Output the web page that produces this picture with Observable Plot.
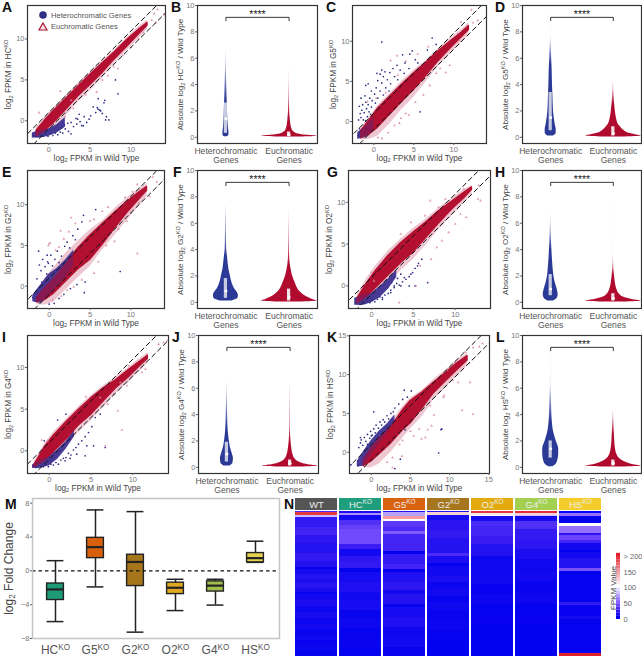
<!DOCTYPE html>
<html><head><meta charset="utf-8">
<script src="https://cdn.jsdelivr.net/npm/d3@7"></script>
<script src="https://cdn.jsdelivr.net/npm/@observablehq/plot@0.6"></script>
<style>
html,body{margin:0;padding:0;background:#fff}
#page{position:relative;width:642px;height:657px;overflow:hidden;font-family:"Liberation Sans",Arial,sans-serif}
#page>svg,#page>.p{position:absolute}
.letter{position:absolute;font:bold 14px "Liberation Sans",Arial,sans-serif;line-height:14px;color:#111}
.lg{position:absolute;font-size:7.6px;color:#555;line-height:9px;white-space:nowrap}
</style></head><body><div id="page"></div>
<script>
// ---------- scatter data: bands [x, lo, hi, haloLo, haloHi]; clouds [x, lo, hi]; points [x, y] ----------
const bandA=[[-1.5,-1.9,-1.2,-2,-.8],[-.5,-1.3,0,-1.7,.4],[.5,-.4,1.1,-1.1,1.5],[2,1.2,2.6,.5,3],[3.5,2.9,4.1,2.2,4.5],[5,4.3,5.6,3.6,5.9],[6.5,5.8,7,5.2,7.3],[8,7.5,8.4,7,8.7],[9.5,9,9.9,8.6,10.2],[11,10.6,11.2,10.1,11.6],[12,11.6,12,11.2,12.3]];
const bandC=[[-1.6,-2.1,-1.2,-2.3,-.8],[-.5,-1.6,.2,-2.2,.6],[.5,-.8,1.6,-1.8,2],[2,.8,3.1,-.3,3.5],[3.5,2.4,4.6,1.5,5],[5,3.9,6,3,6.4],[6.5,5.6,7.3,4.9,7.6],[8,7.4,8.7,6.8,9],[9.5,9,9.9,8.4,10.3],[11,10.5,11.1,9.9,11.5],[11.9,11.4,11.9,10.9,12.3]];
const bandE=[[-1.5,-2,-1.4,-2.3,-.8],[-.5,-1.7,-.2,-2.3,1],[.5,-1,.8,-2,2.2],[2,.5,2.6,-.5,4],[3.5,2,4.6,1,5.5],[5,3.2,6.2,2.4,6.9],[6.5,5,7.6,4.4,8],[8,7,9,6.2,9.5],[9.5,8.9,10.3,8,10.8],[11,10.6,11.5,9.8,12],[12,11.7,12.2,11,12.6]];
const bandG=[[-1.7,-2.1,-1.5,-2.4,-1],[-.5,-1.3,.4,-2,1],[.5,-.3,1.8,-1.5,2.4],[2,1.2,3.6,.2,4.2],[3.5,2.7,5.1,1.8,5.6],[5,4,6.4,3.2,6.9],[6.5,5.7,7.6,4.9,8],[8,7.4,8.9,6.7,9.3],[9.5,9,10,8.3,10.4],[11,10.4,11.1,9.8,11.5],[12,11.5,11.8,11,12]];
const bandI=[[-1.8,-2,-1.7,-2.2,-1.3],[-.5,-1.2,.5,-1.8,.9],[.5,-.2,1.8,-1.2,2.2],[2,1.3,3.4,.4,3.8],[3.5,3,4.9,2.2,5.3],[5,4.3,6.3,3.6,6.6],[6.5,5.9,7.5,5.2,7.8],[8,7.5,8.5,6.9,8.9],[9.5,8.8,9.7,8.2,10],[11,10.3,10.8,9.7,11.2],[11.8,11,11.4,10.5,11.7]];
const bandK=[[-1,-1.8,-1,-2,-.4],[0,-1.2,.5,-2,1],[1,-.3,1.7,-1.5,2.2],[2.5,1.1,3.2,0,3.8],[4,2.8,5.4,1.8,5.9],[5,3.7,6.6,3,7],[6.5,5.6,7.7,4.6,8],[8,7.6,9,6.8,9.4],[9.5,9.1,10.2,8.3,10.6],[11,10.6,11.5,9.9,11.9],[12.3,11.8,12.4,11.2,12.8]];

const cloudA=[[-2,-2.1,-1.5],[-1,-2.1,-1.2],[0,-1.9,-1],[1,-1.5,-.5],[2,-.8,.4]];
const cloudC=[[-2,-2.2,-1.4],[-1,-2,-.6],[0,-1,.6]];
const cloudE=[[-2,-1.9,-1.1],[-1,-2.1,.2],[0,-1.2,1.5],[1,-.1,2.2],[2,1,3.2],[3,2.5,4.4]];
const cloudG=[[-2,-2.3,-1.5],[-1,-2.3,-1.1],[0,-2,-.9],[1,-1.4,-.1],[2,-.4,.8],[3,1,1.9]];
const cloudI=[[-2,-2.1,-1.7],[-1,-2.1,-1.1],[0,-1.8,-.7],[1,-1,.1],[2,.2,1.1],[3,1.7,2.4]];
const cloudK=[[-1.8,-1.9,-1.2],[-1,-1.8,.1],[0,-.3,1.5],[1,1.1,2.7],[2,2.4,3.6],[3,3.8,4.8]];

const blueA=[[-1.9,-1.8],[-1.6,-1.9],[-1.3,-1.9],[-1,-1.8],[-.7,-1.9],[-.4,-1.7],[-.1,-1.9],[.2,-1.6],[.5,-1.8],[.8,-1.5],[1.1,-1.7],[1.4,-1.4],[1.7,-1.5],[.3,-1.2],[.7,-1],[1,-1.1],[1.5,-.9],[2,-1],[2.4,-1.3],[2.7,-1.6],[1.9,-.5],[2.3,-.3],[2.7,-.2],[3,-.7],[3.4,-.4],[3.8,-.1],[4.2,-.6],[4.6,-.2],[3.3,.3],[3.7,.8],[4.3,.5],[4.9,.2],[5.4,1.7],[5.9,1.6],[6.2,1.3],[5.7,1],[6.5,.9],[7,.5],[6.8,2.5],[6,2.7],[7.3,.1],[8.1,5],[8.4,3.3],[6.7,2.2],[6,1.4],[6.3,1.2],[6.9,.1],[5.1,.6],[3.5,.2],[4,-.6]];
const blueC=[[-1.9,-1.7],[-1.7,-1.4],[-1.5,-1],[-1.8,-.9],[-1.3,-1.5],[-1.1,-.8],[-1.9,.2],[-1.6,.5],[-1.3,.2],[-1,.1],[-.8,.6],[-1.7,1],[-1.5,1.4],[-1.2,1.1],[-.9,1.6],[-.6,1.2],[-.4,.9],[-1.8,1.9],[-1.4,2.1],[-1,2.4],[-.7,2.1],[-.3,1.8],[-1.6,2.9],[-1.1,3.2],[-.5,2.9],[-.2,2.6],[.2,2.3],[-1,4.5],[-.7,4.7],[-.3,3.8],[.1,3.4],[.5,2.9],[.3,4.2],[.8,3.8],[1.2,3.3],[.5,5.1],[1,4.8],[1.5,4.2],[1.9,3.8],[.8,5.9],[1.2,5.6],[1.7,5.2],[2.1,4.7],[.4,6],[1.4,6.2],[2,6.1],[2.6,5.6],[3,5.2],[1,6.4],[2.4,6.6],[3.3,6.4],[3.8,6],[2.9,7],[3.6,8.3],[4.5,8.4],[4.8,8.8],[3.9,7.3],[1,9.9],[5.2,7.7],[6.7,8.9],[7.3,10.4],[7.8,9.6],[5.5,7.3],[4.4,6.6],[5.8,1.2]];
const blueE=[[-1.3,4.3],[-.25,3.8],[5.7,9.4],[4.2,8.7],[4,7.9],[8.7,1.8],[4.3,-.8],[4.4,.5],[-.2,3],[-1.2,2.6],[-1,1.9],[-.8,3.3],[-.5,2.4],[-.3,1.5],[-.1,2.8],[.2,3.8],[.4,2.5],[.7,3.3],[1,4.3],[1.2,2.9],[1.5,3.7],[1.9,4.9],[2.2,5.4],[2.5,4.7],[2.9,6.2],[3.2,5.7],[3.5,7],[-1.7,-1.8],[-2,-1.4],[-1.5,-.8],[-1.2,-.2],[-.9,.5],[-1.5,.9],[-.6,-.1],[0,-2.2],[.6,-2.1],[1.2,-1.5],[1.8,-1],[2.6,-.3],[3.4,.2]];
const blueG=[[-1.9,-2],[-1.6,-1.7],[-1.4,-2.2],[-1.1,-1.9],[-.8,-2.1],[-.5,-1.8],[-.2,-2],[.1,-1.7],[.4,-1.9],[.7,-1.6],[1,-1.3],[1.3,-1.6],[1.6,-1.1],[2,-.9],[2.3,-.5],[1.9,-.2],[2.7,-.2],[3,.3],[3.3,.1],[3.7,.5],[4.1,.8],[4.5,1.1],[4.9,1.6],[5.2,2.1],[5.6,2.7],[3.1,.9],[3.5,1.4],[2.4,.4],[2.3,-.8],[1.3,-1.4],[2.7,0],[3.5,0],[4.5,0],[5.2,0],[6.7,.4],[3.9,1],[4.7,1.4],[5.5,2.4],[6,3.2]];
const blueI=[[1,3.7],[2,4.4],[-.6,1.2],[.1,.4],[4.3,-.6],[3.3,-.4],[4.5,.6],[5.3,.6],[6.7,.4],[5.5,4],[6.1,4.4],[-1.9,-1.9],[-1.6,-2],[-1.3,-1.9],[-1,-1.8],[-.7,-1.9],[-.4,-1.7],[-.1,-1.9],[.2,-1.6],[.5,-1.7],[.8,-1.4],[1.1,-1.6],[1.4,-1.1],[1.7,-.9],[2,-.8],[2.3,-.3],[2.6,-.5],[2.9,.1],[3.2,.4],[3.5,.8],[3.9,1.2],[4.3,1.7],[4.7,2.2],[5.1,2.9],[1.9,-1.2],[2.5,-.9]];
const blueK=[[-1.6,.6],[-1.4,1.2],[-1.3,1.6],[-1.1,.9],[-.9,1.9],[-.7,1.4],[-1.4,1.9],[-.5,1],[-.5,2.3],[-.2,1.8],[-.1,2.7],[.1,2.2],[.3,3],[.5,2.5],[.6,3.5],[.9,3.1],[1.1,3.9],[1.3,3.5],[1.5,4.2],[1.7,3.9],[2,4.7],[2.2,4.3],[2.5,5],[2.8,5.2],[3,5.7],[.3,5.2],[3.5,6.2],[4,6.8],[4.6,7.1],[5.1,7.9],[4.2,8],[0,2.1],[-1.7,-1.7],[-2.6,-1.6],[3.7,-.9],[3,-2.1],[8.6,-.1],[8.9,2.9],[9,3],[4.3,2.9]];

const pinkA=[[7.9,6.6],[8.4,6.4],[5.8,3.5],[3.5,2.7],[2.7,2.5],[1.4,3.6],[-1.2,1],[10,9],[13.2,13.6],[14,13],[12.5,12.3],[13,12],[12.8,13.1],[4.5,3.2],[6.5,5],[7.2,5.5],[9,8],[10.9,10],[11.5,10.8],[2,.5],[3,1.5]];
const pinkC=[[2.9,8.2],[2.1,7.6],[4,7.5],[5.5,8.4],[6.8,9.3],[10.7,10.1],[10.9,12.4],[12.2,13.9],[12.4,12.3],[13,12.6],[8.3,6.6],[9,6.1],[9.5,7],[7.8,6],[7,4.5],[6.2,3.3],[5.2,2.4],[4,1],[3.4,.4],[2.6,-.5],[1.8,-1.4],[1,-2.1],[-.8,2.5],[.3,2.9],[1.5,3.6],[3,5.8],[.5,-2],[3.2,-.2],[4.4,.8]];
const pinkE=[[2.7,8.4],[1.4,6.8],[0,5.2],[10.8,4],[3.2,7.7],[5.5,8.2],[6.5,9.2],[5,8],[7.2,9.7],[8.5,7],[9.5,8],[10,9],[9.3,10.9],[10.2,11.6],[10.8,12.5],[12.3,11],[11,10.2],[12.7,13.4],[13.2,12.8],[.4,-1.7],[1.5,-1.2],[2.2,-.5],[3,-.1],[4,.8],[5.5,1.6],[6,3],[7,5],[8,5.5],[.8,4.4],[1.8,5.8],[2.4,6.7],[1.2,4.8],[-.1,5],[.1,5.3]];
const pinkG=[[3.3,-2],[5.3,0],[5.8,2.4],[7.1,3.2],[7.8,4.6],[8.4,5.4],[9.2,6.4],[10,7.4],[11.3,8.2],[10.6,8.6],[12.7,10.4],[7,10.2],[8.8,10.4],[6.4,8.4],[8,9.4],[4.7,7.6],[3.5,6.2],[0,1.6],[.3,.6],[11,11.6],[12.8,12],[13,10.2]];
const pinkI=[[8.2,4.8],[8.7,2.5],[6.7,.6],[8.5,8.2],[7.7,6.8],[9.3,7.8],[11.1,9.4],[11.5,9.8],[13.1,12.8],[13.7,13],[14.1,13.2],[9.5,10.2],[11.7,11.6],[6.1,6.4],[-.9,1.3],[-.2,1.2],[4.4,6.5],[7,5.6]];
const pinkK=[[11.6,5.4],[13,4.9],[12.6,9],[9.2,7.1],[9.3,7.3],[8,4.8],[7.2,2.9],[7.7,3.4],[6.4,1.7],[6.9,1.9],[6.1,3],[7.5,6],[4,1.5],[3.6,1],[3.9,-.5],[2.7,-.7],[2,-1.3],[2.7,-2],[5.4,2.1],[5,2.7],[9.7,10.6],[10.7,11.6],[12,12.9],[13,13.5],[13.8,13.6],[14.2,14],[11.1,9],[12.5,11.5],[10.4,9.3]];

const dashOffsets=[1,-1];
const dashEnds=[-6,20];

// ---------- violin data: profile [y, half width], box [q1, median, q3], fade [solid until, top] ----------
const vioHetB=[[.05,1.5],[.15,3],[.4,3],[.7,2.5],[1,2.2],[1.5,1.8],[2,1.6],[2.7,1.3],[3.5,1],[4.5,.6],[5.5,.3],[6.7,.1]];
const vioEuB=[[.02,10],[.08,28],[.15,18],[.25,9],[.4,5],[.6,3],[.8,2.2],[1,1.7],[1.5,1],[2,.6],[3,.3],[5.2,.1]];
const vioHetD=[[.1,3],[.3,5.5],[.6,5.5],[1,4.5],[1.5,3.5],[2,2.8],[3,2.3],[4,1.8],[5,1.5],[6,1],[7,.5],[7.3,.3],[8,.1],[9.6,.05]];
const vioEuD=[[.02,8],[.1,28],[.2,22],[.3,16],[.5,11],[.8,7],[1,5],[1.5,3],[2,2],[3,.8],[4.2,.2]];
const vioHetF=[[.1,6],[.3,12],[.5,12.5],[.8,11],[1,9],[1.5,6],[2,4.5],[2.5,3],[3,2.2],[3.5,1.5],[4,.8],[5,.5],[6,.4],[7.3,.2]];
const vioEuF=[[.02,10],[.1,28],[.2,24],[.4,18],[.6,14],[.8,11],[1,9],[1.5,6],[2,3.5],[2.5,2],[3,1],[4,.4],[5,.3],[7,.1]];
const vioHetH=[[.1,3],[.3,6.5],[.6,7.5],[1,6.5],[1.5,4.5],[2,3.2],[3,2],[4,1.2],[5,.6],[6.7,.1]];
const vioEuH=[[.02,10],[.1,28],[.2,20],[.4,10],[.6,6.5],[1,3.5],[1.5,2],[2,1.2],[3,.3],[5,.05],[8,.05]];
const vioHetJ=[[.1,3],[.3,6],[.7,6.5],[1,5.5],[1.5,3.5],[2,2.4],[2.5,1.6],[3,1.1],[4,.7],[5,.4],[6.6,.1]];
const vioEuJ=[[.02,10],[.1,28],[.2,18],[.4,9],[.6,5.5],[1,2.8],[1.5,1.6],[2,.9],[3,.3],[6.2,.2]];
const vioHetL=[[.05,2],[.2,5],[.5,7],[1,8],[1.4,8],[2,5.5],[2.5,3.5],[3,2.2],[4,1.2],[5,.8],[6.3,.3],[9.4,.05]];
const vioEuL=[[.02,8],[.1,28],[.2,20],[.4,12],[.6,7.5],[1,3.5],[1.5,2],[2,1.4],[3,.8],[4.3,.2]];

const boxB=[[.3,1.4,2.6],[.05,.2,.4]], fadeB=[[2.7,6.7],[1.5,5.2]];
const boxD=[[.5,1.5,3.4],[.1,.3,.8]], fadeD=[[5.5,7.6],[2.5,4.2]];
const boxF=[[.3,.85,1.8],[.1,.4,1]], fadeF=[[3.5,7.3],[2.8,7]];
const boxH=[[.5,1,2.1],[.1,.3,.65]], fadeH=[[4,6.7],[2,3.6]];
const boxJ=[[.4,1,1.9],[.1,.3,.55]], fadeJ=[[3,6.6],[1.8,6.2]];
const boxL=[[.7,1.4,2],[.1,.3,.55]], fadeL=[[3.5,6.5],[2.5,4.3]];

const violinCats=["Heterochromatic\nGenes","Euchromatic\nGenes"];
const violinTicks=[0,2,4,6,8,10];
const bracketX=[1,1,2,2], bracketY=[8.85,9.1,9.1,8.85];

// ---------- box plot data ----------
const koNames=["HC^KO","G5^KO","G2^KO","O2^KO","G4^KO","HS^KO"];
const koLow=[-6,-1.9,-7.25,-4.7,-4.05,1];
const koQ1=[-3.45,1.5,-1.8,-2.75,-2.45,1];
const koMed=[-2.2,2.8,1.05,-2,-1.75,1.5];
const koQ3=[-1.5,3.9,1.9,-1.4,-1.25,2.1];
const koHigh=[1.2,7.2,7,-1,-1,3.5];
const koFill=["#1d9a78","#d8600c","#a6761d","#dfa820","#a2bf4c","#e6d24e"];

// ---------- heatmap data: runs of [rows, FPKM] per sample, from the top ----------
const heatNames=["WT","HC^KO","G5^KO","G2^KO","O2^KO","G4^KO","HS^KO"];
const heatHead=["#555555","#1f9e7d","#d9620f","#a5761e","#e2aa0e","#a3d050","#f4cd2c"];
const runsWT=[[1,30],[3,190],[2,80],[10,22],[8,28],[8,20],[10,15],[8,22],[6,16],[2,3],[5,10],[5,16],[4,12],[5,18],[4,12],[2,2],[6,8],[6,12],[6,6],[6,10],[6,5],[6,8],[5,4],[5,6],[5,3],[5,5],[6,2],[12,3]];
const runsHC=[[2,12],[2,65],[5,8],[5,32],[4,38],[15,42],[5,25],[7,8],[5,20],[7,22],[4,2],[10,10],[10,14],[8,8],[10,10],[8,4],[10,6],[10,3],[10,4],[20,2]];
const runsG5=[[1,15],[4,70],[3,145],[2,100],[6,35],[4,30],[3,48],[17,28],[3,3],[10,22],[5,28],[3,2],[10,14],[8,20],[4,8],[10,16],[3,4],[10,10],[10,14],[10,6],[10,8],[10,4],[10,3],[20,2]];
const runsG2=[[1,15],[3,120],[5,10],[10,18],[8,22],[15,16],[3,30],[7,12],[3,2],[10,8],[6,12],[6,5],[8,8],[6,3],[8,6],[10,4],[10,5],[10,2],[30,1]];
const runsO2=[[2,190],[2,110],[1,100],[5,10],[5,30],[10,28],[8,25],[12,15],[3,5],[15,6],[10,8],[10,3],[10,5],[10,2],[10,3],[40,1]];
const runsG4=[[2,195],[2,120],[1,80],[5,8],[8,32],[12,22],[8,20],[10,12],[12,6],[10,8],[12,4],[10,6],[10,2],[12,3],[40,1]];
const runsHS=[[2,3],[3,55],[7,2],[3,100],[7,55],[2,20],[5,40],[3,28],[7,8],[2,1],[6,8],[10,15],[3,45],[31,2],[3,22],[11,3],[3,10],[34,2],[3,200]];
const heatRuns=[runsWT,runsHC,runsG5,runsG2,runsO2,runsG4,runsHS];
const fpkmDomain=[0,25,50,100,200];
const fpkmRange=["#0000f0","#3a1cf2","#8a60ff","#ffffff","#e2202c"];
const barLevels=[0,10,20,30,40,50,60,70,80,90,100,110,120,130,140,150,160,170,180,190,200];
const barTicks=[0,50,100,150,200];

// ---------- helpers ----------
const FONT='"Liberation Sans",Arial,sans-serif';
const page=document.getElementById("page");
function rich(svg){
  svg.querySelectorAll("text,tspan").forEach(el=>{
    if(el.children.length) return;
    const s=el.textContent;
    if(!/\^|_\d/.test(s)) return;
    el.textContent="";
    let pending=null;
    s.split(/(\^[A-Z]+|_\d)/).filter(Boolean).forEach(part=>{
      const t=document.createElementNS("http://www.w3.org/2000/svg","tspan");
      if(part[0]==="^"){t.textContent=part.slice(1);t.setAttribute("font-size","68%");t.setAttribute("dy","-.55em");pending=".37em";}
      else if(part[0]==="_"){t.textContent=part.slice(1);t.setAttribute("font-size","68%");t.setAttribute("dy",".3em");pending="-.2em";}
      else{t.textContent=part;if(pending){t.setAttribute("dy",pending);pending=null;}}
      el.appendChild(t);
    });
  });
}
function styleAxis(svg,tick,label,tickSize,labelSize){
  svg.querySelectorAll('g[aria-label$="tick label"]').forEach(g=>{g.style.fill=tick;g.setAttribute("font-size",tickSize);g.style.fontSize=tickSize+"px";});
  svg.querySelectorAll('g[aria-label$="axis label"]').forEach(g=>{g.style.fill=label;g.setAttribute("font-size",labelSize);g.style.fontSize=labelSize+"px";});
  svg.querySelectorAll('g[aria-label$="tick"]').forEach(g=>{g.style.stroke="#666";});
}
function place(chart,left,top){chart.style.left=left+"px";chart.style.top=top+"px";chart.style.overflow="visible";rich(chart);page.appendChild(chart);}

function scatter(f,xd,yd,ticks,band,cloud,blue,pink,yLabel){
  const ml=28,mr=1,mt=6,mb=24;
  const dash=dashOffsets.map(k=>dashEnds.map(x=>({x,y:x+k,k})));
  const chart=Plot.plot({
    width:f[1]-f[0]+ml+mr,height:f[3]-f[2]+mt+mb,marginLeft:ml,marginRight:mr,marginTop:mt,marginBottom:mb,
    style:{fontFamily:FONT,fontSize:"7.5px",background:"transparent"},
    x:{domain:xd,label:null},y:{domain:yd,label:null},
    marks:[
      Plot.areaY(band,{x:d=>d[0],y1:d=>d[3],y2:d=>d[4],fill:"#d8809a",fillOpacity:.45,clip:true}),
      Plot.areaY(cloud,{x:d=>d[0],y1:d=>d[1],y2:d=>d[2],fill:"#3b2f90",fillOpacity:.9,clip:true}),
      Plot.dot(blue,{x:d=>d[0],y:d=>d[1],r:.85,fill:"#2b2b85",clip:true}),
      Plot.areaY(band,{x:d=>d[0],y1:d=>d[1],y2:d=>d[2],fill:"#b30f30",stroke:"#b30f30",strokeWidth:1.2,clip:true}),
      Plot.areaY(cloud,{x:d=>d[0],y1:d=>d[1],y2:d=>d[2],fill:"#3b2f90",fillOpacity:.35,clip:true}),
      Plot.dot(pink,{x:d=>d[0],y:d=>d[1],r:1,symbol:"triangle",fill:"#d98aa2",fillOpacity:.85,clip:true}),
      ...dash.map(l=>Plot.line(l,{x:"x",y:"y",stroke:"#111",strokeWidth:1,strokeDasharray:"4.5,3.5",clip:true})),
      Plot.frame({stroke:"#333",strokeWidth:1.2}),
      Plot.axisX({ticks,tickSize:2,tickPadding:1,label:"log_2 FPKM in Wild Type",labelAnchor:"center",labelArrow:"none",labelOffset:17}),
      Plot.axisY({ticks,tickSize:2,tickPadding:1,label:yLabel,labelAnchor:"center",labelArrow:"none",labelOffset:22})
    ]
  });
  chart.querySelectorAll('g[aria-label="area"]').forEach(g=>{g.style.filter="blur(.7px)";});
  styleAxis(chart,"#777","#444",7.5,8.2);
  place(chart,f[0]-ml,f[2]-mt);
}

let gid=0;
function violin(f,yLabel,het,eu,box,fade){
  const ml=26,mr=1,mt=6,mb=24;
  const ids=[`g${gid++}`,`g${gid++}`];
  const colors=["#2c3a97","#b00a2f"], boxFill=["#c6cbe2","#f0dfe3"];
  const unit=1.9/(f[1]-f[0]);
  const mk=[het,eu].map((rows,i)=>Plot.areaX(rows,{y:d=>d[0],x1:d=>i+1-d[1]*unit,x2:d=>i+1+d[1]*unit,fill:`url(#${ids[i]})`,curve:"monotone-y"}));
  const chart=Plot.plot({
    width:f[1]-f[0]+ml+mr,height:f[3]-f[2]+mt+mb,marginLeft:ml,marginRight:mr,marginTop:mt,marginBottom:mb,
    style:{fontFamily:FONT,fontSize:"7.5px",background:"transparent"},
    x:{domain:[.55,2.45],label:null},y:{domain:[-.47,10],label:null},
    marks:[
      (index,scales)=>{
        const defs=d3.create("svg:defs");
        ids.forEach((id,i)=>{
          const g=defs.append("linearGradient").attr("id",id).attr("gradientUnits","userSpaceOnUse")
            .attr("x1",0).attr("x2",0).attr("y1",scales.y(fade[i][0])).attr("y2",scales.y(fade[i][1]));
          g.append("stop").attr("offset",0).attr("stop-color",colors[i]).attr("stop-opacity",1);
          g.append("stop").attr("offset",.5).attr("stop-color",colors[i]).attr("stop-opacity",.55);
          g.append("stop").attr("offset",1).attr("stop-color",colors[i]).attr("stop-opacity",.12);
        });
        return defs.node();
      },
      ...mk,
      Plot.rect(box,{x1:(d,i)=>i+1-1.6*unit,x2:(d,i)=>i+1+1.6*unit,y1:d=>d[0],y2:d=>d[2],fill:(d,i)=>boxFill[i]}),
      Plot.dot(box,{x:(d,i)=>i+1,y:d=>d[1],r:1.5,fill:"#fff"}),
      Plot.line(bracketX.map((x,i)=>({x,y:bracketY[i]})),{x:"x",y:"y",stroke:"#222",strokeWidth:.9}),
      Plot.text(["****"],{x:()=>1.5,y:()=>9.4,dy:1,fill:"#222",fontSize:10.5}),
      Plot.frame({stroke:"#333",strokeWidth:1.2}),
      Plot.axisX({ticks:[1,2],tickSize:0,tickPadding:4,tickFormat:v=>violinCats[v-1],label:null,lineHeight:1.05}),
      Plot.axisY({ticks:violinTicks,tickSize:2,tickPadding:1,label:yLabel,labelAnchor:"center",labelArrow:"none",labelOffset:20})
    ]
  });
  styleAxis(chart,"#777","#444",7.5,8.1);
  chart.querySelectorAll('g[aria-label="x-axis tick label"]').forEach(g=>{g.style.fontSize="8.6px";g.style.fill="#555";});
  place(chart,f[0]-ml,f[2]-mt);
}

// ---------- panels ----------
scatter([27,165,5,143],[-2.59,14.18],[-2.78,14.1],[0,5,10],bandA,cloudA,blueA,pinkA,"log_2 FPKM in HC^KO");
scatter([352,486,5,143],[-2.66,14.09],[-2.74,14.45],[0,5,10],bandC,cloudC,blueC,pinkC,"log_2 FPKM in G5^KO");
scatter([27,164,170,308],[-2.66,14.13],[-2.74,14.2],[0,5,10],bandE,cloudE,blueE,pinkE,"log_2 FPKM in G2^KO");
scatter([348,490,170,308],[-2.75,14.2],[-2.7,13.8],[0,5,10],bandG,cloudG,blueG,pinkG,"log_2 FPKM in O2^KO");
scatter([27,168,335,473],[-2.6,14.27],[-2.72,13.84],[0,5,10],bandI,cloudI,blueI,pinkI,"log_2 FPKM in G4^KO");
scatter([349,489,335,473],[-2.8,15.1],[-2.74,15.04],[0,5,10,15],bandK,cloudK,blueK,pinkK,"log_2 FPKM in HS^KO");

violin([197,317,5,143],"Absolute log_2 HC^KO / Wild Type",vioHetB,vioEuB,boxB,fadeB);
violin([522,641,5,143],"Absolute log_2 G5^KO / Wild Type",vioHetD,vioEuD,boxD,fadeD);
violin([197,317,170,308],"Absolute log_2 G2^KO / Wild Type",vioHetF,vioEuF,boxF,fadeF);
violin([522,641,170,308],"Absolute log_2 O2^KO / Wild Type",vioHetH,vioEuH,boxH,fadeH);
violin([198,318,335,473],"Absolute log_2 G4^KO / Wild Type",vioHetJ,vioEuJ,boxJ,fadeJ);
violin([522,641,335,473],"Absolute log_2 HS^KO / Wild Type",vioHetL,vioEuL,boxL,fadeL);

// box plot M
{
  const idx=koNames.map((d,i)=>i), w=.21;
  const chart=Plot.plot({
    width:247+32+2,height:140+4+19,marginLeft:32,marginRight:2,marginTop:4,marginBottom:19,
    style:{fontFamily:FONT,fontSize:"7.5px",background:"transparent"},
    x:{domain:[-.575,5.6],label:null},y:{domain:[-8,8.55],label:null},
    marks:[
      Plot.ruleX(idx,{x:i=>i,y1:i=>koLow[i],y2:i=>koHigh[i],stroke:"#222",strokeWidth:1.5}),
      Plot.ruleY(idx,{x1:i=>i-w,x2:i=>i+w,y:i=>koHigh[i],stroke:"#222",strokeWidth:1.5}),
      Plot.ruleY(idx,{x1:i=>i-w,x2:i=>i+w,y:i=>koLow[i],stroke:"#222",strokeWidth:1.5}),
      Plot.rect(idx,{x1:i=>i-w,x2:i=>i+w,y1:i=>koQ1[i],y2:i=>koQ3[i],fill:i=>koFill[i],stroke:"#222",strokeWidth:1.4}),
      Plot.ruleY(idx,{x1:i=>i-w,x2:i=>i+w,y:i=>koMed[i],stroke:"#222",strokeWidth:2.2}),
      Plot.ruleY([0],{stroke:"#111",strokeWidth:1.2,strokeDasharray:"3.5,3"}),
      Plot.frame({stroke:"#c4c4c4",strokeWidth:1.5}),
      Plot.axisX({ticks:idx,tickSize:0,tickPadding:7,tickFormat:i=>koNames[i],label:null,fontSize:11.5}),
      Plot.axisY({ticks:[-8,-4,0,4,8],tickSize:2,tickPadding:1,label:"log_2 Fold Change",labelAnchor:"center",labelArrow:"none",labelOffset:28})
    ]
  });
  styleAxis(chart,"#777","#444",7.5,12);
  chart.querySelectorAll('g[aria-label="x-axis tick label"]').forEach(g=>{g.style.fontSize="12px";g.style.fill="#555";});
  place(chart,0,494);
}

// heatmap N
{
  const rows=[];
  heatRuns.forEach((runs,i)=>{let s=0;runs.forEach(([n,v])=>{if(s<145) rows.push({col:heatNames[i],s,e:Math.min(s+n,145),v});s+=n;});});
  const chart=Plot.plot({
    width:310.3,height:159,marginLeft:0,marginRight:0,marginTop:0,marginBottom:0,
    style:{fontFamily:FONT,background:"transparent"},
    x:{type:"band",domain:heatNames,paddingInner:.056,paddingOuter:0,axis:null,label:null},
    y:{domain:[-13,146],reverse:true,axis:null,label:null},
    color:{type:"linear",domain:fpkmDomain,range:fpkmRange,interpolate:"rgb",clamp:true},
    marks:[
      Plot.barY(rows,{x:"col",y1:"s",y2:"e",fill:"v"}),
      ...heatNames.map((n,i)=>Plot.barY([n],{x:d=>d,y1:()=>-13,y2:()=>-1,fill:heatHead[i]})),
      Plot.text(heatNames,{x:d=>d,y:()=>-7,fill:"#eee",fontSize:9.5})
    ]
  });
  chart.querySelectorAll('g[aria-label="bar"]').forEach(g=>{g.style.filter="blur(.5px)";});
  place(chart,293,498);
}

// colour bar
{
  const chart=Plot.plot({
    width:44,height:75,marginLeft:16,marginRight:24,marginTop:6,marginBottom:6,
    style:{fontFamily:FONT,fontSize:"7.5px",background:"transparent"},
    x:{domain:[0,1],axis:null,label:null},y:{domain:[0,200],label:null},
    color:{type:"linear",domain:fpkmDomain,range:fpkmRange,interpolate:"rgb"},
    marks:[
      Plot.rect(barLevels,{x1:()=>0,x2:()=>1,y1:d=>d,y2:d=>d+10,fill:d=>d}),
      Plot.axisY({anchor:"right",ticks:barTicks,tickSize:0,tickPadding:3,tickFormat:v=>v===200?"> 200":v,label:null}),
      Plot.axisY({anchor:"left",ticks:[],tickSize:0,label:"FPKM Value",labelAnchor:"center",labelArrow:"none",labelOffset:6})
    ]
  });
  styleAxis(chart,"#666","#444",7.5,8);
  place(chart,600,550);
}

// panel letters
[["A",2,0],["B",171,0],["C",326,0],["D",495,0],["E",2,165],["F",173,165],["G",327,165],["H",495,165],["I",2,330],["J",172,330],["K",327,330],["L",496,330],["M",5,497],["N",284,497]].forEach(([t,x,y])=>{
  const d=document.createElement("div");d.className="letter";d.textContent=t;d.style.left=x+"px";d.style.top=y+"px";page.appendChild(d);
});
// legend in panel A
const lg=document.createElement("div");
lg.innerHTML=`<svg style="position:absolute;left:37px;top:9px" width="14" height="24"><circle cx="6" cy="6" r="3.8" fill="#2f2f8a"/><path d="M6 14 L10 21 L2 21 Z" fill="#f7e4e8" stroke="#a8172f" stroke-width="1.2"/></svg>
<div class="lg" style="left:51px;top:11px">Heterochromatic Genes</div><div class="lg" style="left:51px;top:22px">Euchromatic Genes</div>`;
page.appendChild(lg);
</script></body></html>
